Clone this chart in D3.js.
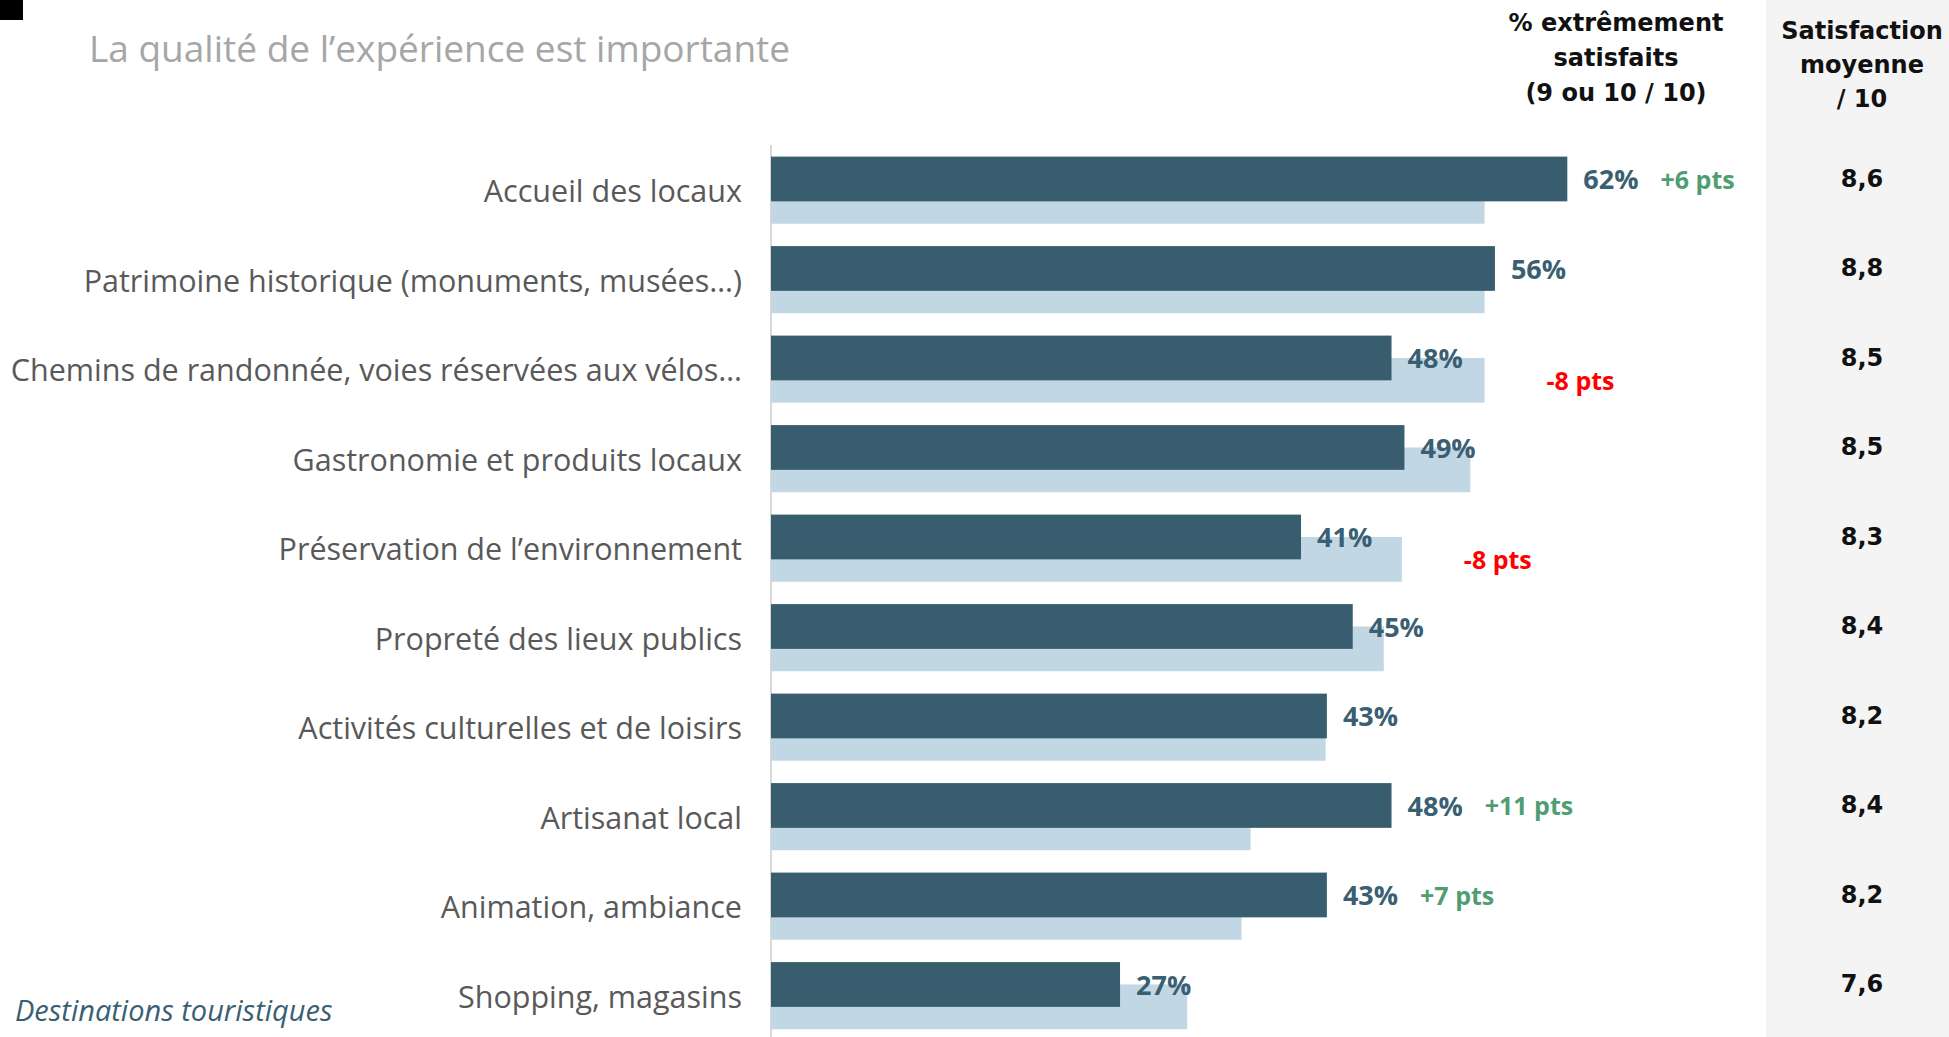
<!DOCTYPE html>
<html>
<head>
<meta charset="utf-8">
<script src="https://cdn.jsdelivr.net/npm/d3@7"></script>
<style>
  html, body { margin: 0; padding: 0; background: #fff; }
  svg { display: block; }
</style>
</head>
<body>
<svg id="chart"></svg>
<script>
// données
const categories = [
  'Accueil des locaux',
  'Patrimoine historique (monuments, musées…)',
  'Chemins de randonnée, voies réservées aux vélos…',
  'Gastronomie et produits locaux',
  'Préservation de l’environnement',
  'Propreté des lieux publics',
  'Activités culturelles et de loisirs',
  'Artisanat local',
  'Animation, ambiance',
  'Shopping, magasins'
];
const current = [61.6, 56, 48, 49, 41, 45, 43, 48, 43, 27];
const previous = [55.2, 55.2, 55.2, 54.1, 48.8, 47.4, 42.9, 37.1, 36.4, 32.2];
const pctLabels = ['62%', '56%', '48%', '49%', '41%', '45%', '43%', '48%', '43%', '27%'];
const changes = ['+6 pts', '', '-8 pts', '', '-8 pts', '', '', '+11 pts', '+7 pts', ''];
const meanScores = ['8,6', '8,8', '8,5', '8,5', '8,3', '8,4', '8,2', '8,4', '8,2', '7,6'];

const W = 1949, H = 1037;
const labelFont = '"Open Sans", "DejaVu Sans", sans-serif';
const numFont = '"Liberation Sans Narrow", "Open Sans", sans-serif';
const headFont = '"DejaVu Sans", "Open Sans", sans-serif';

const svg = d3.select('#chart').attr('width', W).attr('height', H);

const rows = categories.map((c, i) => ({
  cat: c, cur: current[i], prev: previous[i], lab: pctLabels[i], chg: changes[i], mean: meanScores[i]
}));

const x = d3.scaleLinear().domain([0, 62]).range([771, 1572.5]);
const y = d3.scaleBand().domain(categories).range([156.6, 156.6 + 895]).paddingInner(0).paddingOuter(0);
const step = y.step();
const barH = step * 0.5;

// panneau de droite
svg.append('rect')
  .attr('x', 1766).attr('y', 0).attr('width', W - 1766).attr('height', H)
  .attr('fill', '#f4f4f4');

// petit carré noir
svg.append('rect').attr('x', 0).attr('y', 0).attr('width', 23).attr('height', 20).attr('fill', '#000');

// titre
svg.append('text')
  .attr('x', 89).attr('y', 47)
  .attr('dominant-baseline', 'central')
  .style('font-family', labelFont)
  .style('font-size', '37px')
  .style('fill', '#a6a6a6')
  .text('La qualité de l’expérience est importante');

// en-têtes
const head1 = ['% extrêmement', 'satisfaits', '(9 ou 10 / 10)'];
const head2 = ['Satisfaction', 'moyenne', '/ 10'];
svg.append('g').selectAll('text').data(head1).join('text')
  .attr('x', 1616).attr('y', (d, i) => 23 + i * 35)
  .attr('text-anchor', 'middle').attr('dominant-baseline', 'central')
  .style('font-family', headFont).style('font-weight', 'bold').style('font-size', '24px')
  .style('fill', '#111')
  .text(d => d);
svg.append('g').selectAll('text').data(head2).join('text')
  .attr('x', 1862).attr('y', (d, i) => 31 + i * 34)
  .attr('text-anchor', 'middle').attr('dominant-baseline', 'central')
  .style('font-family', headFont).style('font-weight', 'bold').style('font-size', '24px')
  .style('fill', '#111')
  .text(d => d);

// ligne d'axe
svg.append('line')
  .attr('x1', x(0)).attr('x2', x(0)).attr('y1', 145).attr('y2', H)
  .attr('stroke', '#d9d9d9').attr('stroke-width', 2);

const g = svg.append('g');

// barres année précédente (derrière)
g.selectAll('rect.prev').data(rows).join('rect')
  .attr('class', 'prev')
  .attr('x', x(0))
  .attr('y', d => y(d.cat) + step * 0.25)
  .attr('width', d => x(d.prev) - x(0))
  .attr('height', barH)
  .attr('fill', '#c1d7e4');

// barres actuelles
g.selectAll('rect.cur').data(rows).join('rect')
  .attr('class', 'cur')
  .attr('x', x(0))
  .attr('y', d => y(d.cat))
  .attr('width', d => x(d.cur) - x(0))
  .attr('height', barH)
  .attr('fill', '#385d6f');

// libellés des catégories
g.selectAll('text.cat').data(rows).join('text')
  .attr('class', 'cat')
  .attr('x', 742)
  .attr('y', d => y(d.cat) + step * 0.375)
  .attr('text-anchor', 'end').attr('dominant-baseline', 'central')
  .style('font-family', labelFont).style('font-size', '30.5px')
  .style('fill', '#595959')
  .text(d => d.cat);

// valeurs en %
const pct = g.selectAll('text.pct').data(rows).join('text')
  .attr('class', 'pct')
  .attr('x', d => x(d.cur) + 16)
  .attr('y', d => y(d.cat) + barH / 2)
  .attr('dominant-baseline', 'central')
  .style('font-family', numFont).style('font-weight', 'bold').style('font-size', '27px')
  .style('fill', '#3a5f73')
  .text(d => d.lab);

// évolutions
const pctEnd = pct.nodes().map(n => n.getBBox().x + n.getBBox().width);
g.selectAll('text.chg').data(rows).join('text')
  .attr('class', 'chg')
  .attr('x', (d, i) => d.chg.startsWith('-') ? x(d.prev) + 62 : pctEnd[i] + 22)
  .attr('y', d => d.chg.startsWith('-') ? y(d.cat) + step * 0.5 : y(d.cat) + barH / 2)
  .attr('dominant-baseline', 'central')
  .style('font-family', numFont).style('font-weight', 'bold').style('font-size', '25px')
  .style('fill', d => d.chg.startsWith('-') ? '#ff0000' : '#4e9e72')
  .text(d => d.chg);

// satisfaction moyenne
g.selectAll('text.mean').data(rows).join('text')
  .attr('class', 'mean')
  .attr('x', 1862)
  .attr('y', d => y(d.cat) + barH / 2)
  .attr('text-anchor', 'middle').attr('dominant-baseline', 'central')
  .style('font-family', headFont).style('font-weight', 'bold').style('font-size', '24px')
  .style('fill', '#111')
  .text(d => d.mean);

// note de bas
svg.append('text')
  .attr('x', 15).attr('y', 1009)
  .attr('dominant-baseline', 'central')
  .style('font-family', labelFont).style('font-style', 'italic').style('font-size', '29px')
  .style('fill', '#3a5f73')
  .text('Destinations touristiques');
</script>
</body>
</html>
